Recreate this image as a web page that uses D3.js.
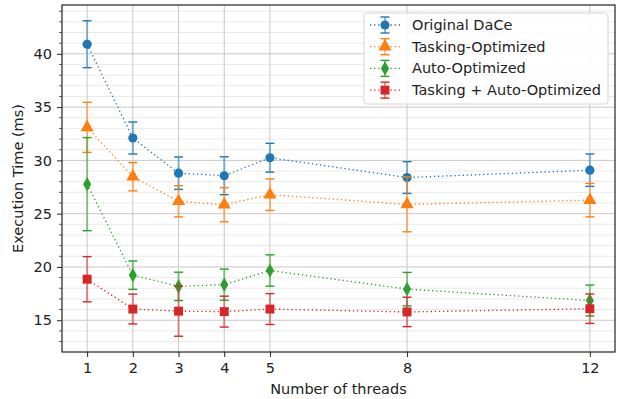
<!DOCTYPE html>
<html>
<head>
<meta charset="utf-8">
<script src="https://cdn.jsdelivr.net/npm/d3@7"></script>
<style>
  body { margin: 0; background: #fff; }
  text { font-family: "DejaVu Sans", sans-serif; fill: #222; }
</style>
</head>
<body>
<div id="chart"></div>
<script>
// data
var threads = [1, 2, 3, 4, 5, 8, 12];
var seriesNames = ["Original DaCe", "Tasking-Optimized", "Auto-Optimized", "Tasking + Auto-Optimized"];
var originalMean = [40.9, 32.1, 28.8, 28.56, 30.25, 28.39, 29.08];
var originalErr = [2.2, 1.5, 1.52, 1.78, 1.35, 1.49, 1.52];
var taskingMean = [33.1, 28.47, 26.16, 25.84, 26.78, 25.87, 26.27];
var taskingErr = [2.35, 1.33, 1.46, 1.6, 1.48, 2.57, 1.57];
var autoMean = [27.77, 19.23, 18.18, 18.34, 19.67, 17.92, 16.85];
var autoErr = [4.37, 1.33, 1.33, 1.46, 1.47, 1.57, 1.45];
var bothMean = [18.85, 16.05, 15.85, 15.81, 16.05, 15.78, 16.08];
var bothErr = [2.12, 1.4, 2.35, 1.45, 1.45, 1.38, 1.38];
var yTicks = [15, 20, 25, 30, 35, 40];

var colors = ["#1f77b4", "#ff7f0e", "#2ca02c", "#d62728"];
var symbols = [d3.symbolCircle, d3.symbolTriangle, d3.symbolDiamond, d3.symbolSquare];
var symbolSizes = [66, 75, 58, 80];
var fontSize = "14.5px";

var series = [
  { name: seriesNames[0], mean: originalMean, err: originalErr },
  { name: seriesNames[1], mean: taskingMean, err: taskingErr },
  { name: seriesNames[2], mean: autoMean, err: autoErr },
  { name: seriesNames[3], mean: bothMean, err: bothErr }
];

var svgWidth = 617, svgHeight = 399;
var margin = { top: 5, right: 2, bottom: 47, left: 62 };
var chartWidth = svgWidth - margin.left - margin.right;
var chartHeight = svgHeight - margin.top - margin.bottom;

var svg = d3.select("#chart").append("svg")
  .attr("width", svgWidth)
  .attr("height", svgHeight);

var chartGroup = svg.append("g")
  .attr("transform", `translate(${margin.left}, ${margin.top})`);

// matplotlib style 5% margins
var xMin = d3.min(threads), xMax = d3.max(threads);
var xPad = (xMax - xMin) * 0.05;
var lows = [], highs = [];
series.forEach(function (s) {
  s.mean.forEach(function (m, i) { lows.push(m - s.err[i]); highs.push(m + s.err[i]); });
});
var yMin = d3.min(lows), yMax = d3.max(highs);
var yPad = (yMax - yMin) * 0.05;

var xScale = d3.scaleLinear().domain([xMin - xPad, xMax + xPad]).range([0, chartWidth]);
var yScale = d3.scaleLinear().domain([yMin - yPad, yMax + yPad]).range([chartHeight, 0]);

var minorTicks = d3.range(Math.ceil(yMin - yPad), Math.floor(yMax + yPad) + 1)
  .filter(function (v) { return yTicks.indexOf(v) < 0; });

// grid
chartGroup.append("g").selectAll("line").data(minorTicks).enter().append("line")
  .attr("x1", 0).attr("x2", chartWidth)
  .attr("y1", d => yScale(d)).attr("y2", d => yScale(d))
  .attr("stroke", "#e4e4e4").attr("stroke-width", 0.8);
chartGroup.append("g").selectAll("line").data(yTicks).enter().append("line")
  .attr("x1", 0).attr("x2", chartWidth)
  .attr("y1", d => yScale(d)).attr("y2", d => yScale(d))
  .attr("stroke", "#c8c8c8").attr("stroke-width", 1);
chartGroup.append("g").selectAll("line").data(threads).enter().append("line")
  .attr("x1", d => xScale(d)).attr("x2", d => xScale(d))
  .attr("y1", 0).attr("y2", chartHeight)
  .attr("stroke", "#c8c8c8").attr("stroke-width", 1);

// axes
var xAxis = d3.axisBottom(xScale).tickValues(threads).tickFormat(d3.format("d")).tickSize(5).tickPadding(6);
var yAxis = d3.axisLeft(yScale).tickValues(yTicks).tickSize(5).tickPadding(5);

var gx = chartGroup.append("g")
  .attr("transform", `translate(0, ${chartHeight})`)
  .call(xAxis);
var gy = chartGroup.append("g").call(yAxis);
chartGroup.append("g").selectAll("line").data(minorTicks).enter().append("line")
  .attr("x1", -2.8).attr("x2", 0)
  .attr("y1", d => yScale(d)).attr("y2", d => yScale(d))
  .attr("stroke", "#222").attr("stroke-width", 0.8);

[gx, gy].forEach(function (g) {
  g.select(".domain").remove();
  g.selectAll("text").style("font-size", fontSize).style("fill", "#222").style("font-family", "DejaVu Sans");
  g.selectAll("line").attr("stroke", "#222");
});

// series
var line = d3.line().x((d, i) => xScale(threads[i])).y(d => yScale(d));

series.forEach(function (s, k) {
  var g = chartGroup.append("g");
  g.append("path")
    .datum(s.mean)
    .attr("d", line)
    .attr("fill", "none")
    .attr("stroke", colors[k])
    .attr("stroke-width", 1.3)
    .attr("stroke-dasharray", "1.3,2.8");

  var pts = s.mean.map(function (m, i) { return { x: threads[i], m: m, e: s.err[i] }; });
  g.selectAll(".eb").data(pts).enter().append("line")
    .attr("x1", d => xScale(d.x)).attr("x2", d => xScale(d.x))
    .attr("y1", d => yScale(d.m - d.e)).attr("y2", d => yScale(d.m + d.e))
    .attr("stroke", colors[k]).attr("stroke-width", 2).attr("stroke-opacity", 0.5);
  [-1, 1].forEach(function (sign) {
    g.selectAll(".cap" + sign).data(pts).enter().append("line")
      .attr("x1", d => xScale(d.x) - 4.5).attr("x2", d => xScale(d.x) + 4.5)
      .attr("y1", d => yScale(d.m + sign * d.e)).attr("y2", d => yScale(d.m + sign * d.e))
      .attr("stroke", colors[k]).attr("stroke-width", 1.4);
  });
  g.selectAll(".mk").data(pts).enter().append("path")
    .attr("d", d3.symbol().type(symbols[k]).size(symbolSizes[k]))
    .attr("transform", d => `translate(${xScale(d.x)}, ${yScale(d.m)})`)
    .attr("fill", colors[k]);
});

// frame
chartGroup.append("rect")
  .attr("x", 0).attr("y", 0)
  .attr("width", chartWidth).attr("height", chartHeight)
  .attr("fill", "none").attr("stroke", "#222").attr("stroke-width", 1.2);

// axis labels
svg.append("text")
  .attr("x", margin.left + chartWidth / 2)
  .attr("y", 394)
  .attr("text-anchor", "middle")
  .style("font-size", fontSize)
  .text("Number of threads");
svg.append("text")
  .attr("transform", `translate(23, ${margin.top + chartHeight / 2}) rotate(-90)`)
  .attr("text-anchor", "middle")
  .style("font-size", fontSize)
  .text("Execution Time (ms)");

// legend
var legend = svg.append("g").attr("transform", "translate(364, 13)");
legend.append("rect")
  .attr("width", 244).attr("height", 91)
  .attr("rx", 3)
  .attr("fill", "#fff").attr("fill-opacity", 0.85)
  .attr("stroke", "#d6d6d6");
series.forEach(function (s, k) {
  var row = legend.append("g").attr("transform", `translate(0, ${12 + k * 21.7})`);
  row.append("line")
    .attr("x1", 6).attr("x2", 36)
    .attr("stroke", colors[k]).attr("stroke-width", 1.3).attr("stroke-dasharray", "1.3,2.8");
  row.append("line")
    .attr("x1", 21).attr("x2", 21).attr("y1", -8).attr("y2", 8)
    .attr("stroke", colors[k]).attr("stroke-width", 2).attr("stroke-opacity", 0.5);
  [-8, 8].forEach(function (cy) {
    row.append("line")
      .attr("x1", 16.5).attr("x2", 25.5).attr("y1", cy).attr("y2", cy)
      .attr("stroke", colors[k]).attr("stroke-width", 1.4);
  });
  row.append("path")
    .attr("d", d3.symbol().type(symbols[k]).size(symbolSizes[k]))
    .attr("transform", "translate(21, 0)")
    .attr("fill", colors[k]);
  row.append("text")
    .attr("x", 48).attr("y", 0)
    .attr("dy", "0.35em")
    .style("font-size", fontSize)
    .text(s.name);
});
</script>
</body>
</html>
